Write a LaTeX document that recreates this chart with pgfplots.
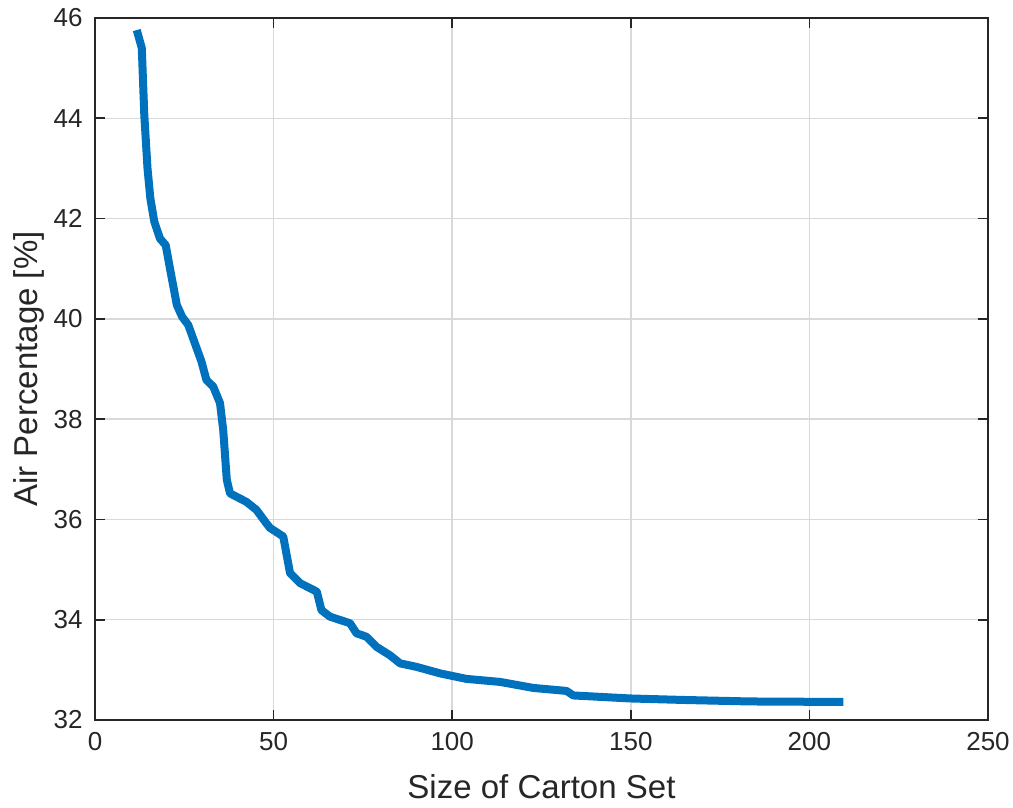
\documentclass[border=0pt]{standalone}
\usepackage{pgfplots}
\pgfplotsset{compat=1.18}
\usepackage{fontspec}
\setmainfont{Liberation Sans}
\definecolor{mblue}{rgb}{0,0.447,0.741}
\definecolor{mgray}{rgb}{0.15,0.15,0.15}
\begin{document}
\begin{tikzpicture}
\path[use as bounding box] (-9.5mm,-8.7mm) rectangle (91.8mm,72.0mm);
\begin{axis}[
  at={(0,0)}, anchor=south west,
  scale only axis,
  width=89.3mm, height=70.2mm,
  xmin=0, xmax=250, ymin=32, ymax=46,
  xtick={0,50,...,250}, ytick={32,34,...,46},
  grid=major,
  grid style={black!15, line width=0.4pt},
  axis line style={mgray, line width=0.5pt},
  tick style={mgray, line width=0.5pt},
  tick align=inside,
  major tick length=1.0mm,
  tick label style={font=\fontsize{7.4}{9}\selectfont, text=mgray},
  label style={font=\fontsize{9.4}{11}\selectfont, text=mgray},
  /pgf/number format/assume math mode=true,
  xlabel={Size of Carton Set},
  ylabel={Air Percentage [\%]},
  xlabel style={yshift=0mm},
  ylabel style={yshift=-1.5mm},
]
\addplot[mblue, line width=0.8mm, line join=round] coordinates {
(11.7,45.76) (13.1,45.4) (13.8,44.07) (14.7,43.0) (15.5,42.4) (16.6,41.94)
(18.2,41.6) (19.8,41.47) (21.0,41.0) (22.9,40.28) (24.4,40.04)
(26.1,39.88) (29.8,39.15) (31.2,38.78) (33.1,38.65) (35.0,38.32)
(35.9,37.78) (36.9,36.79) (37.8,36.52) (42.4,36.35) (45.2,36.19)
(48.0,35.92) (49.0,35.83) (52.7,35.66) (54.6,34.93) (57.4,34.73)
(62.1,34.56) (63.4,34.19) (65.8,34.06) (71.4,33.93) (73.2,33.73)
(76.0,33.66) (78.8,33.46) (82.6,33.29) (85.4,33.13) (90.0,33.06)
(96.6,32.93) (104.0,32.82) (113.4,32.76) (122.7,32.64) (132.0,32.58)
(133.9,32.49) (149.8,32.43) (164.7,32.40) (183.4,32.37) (209.5,32.36)
};
\end{axis}
\end{tikzpicture}
\end{document}
